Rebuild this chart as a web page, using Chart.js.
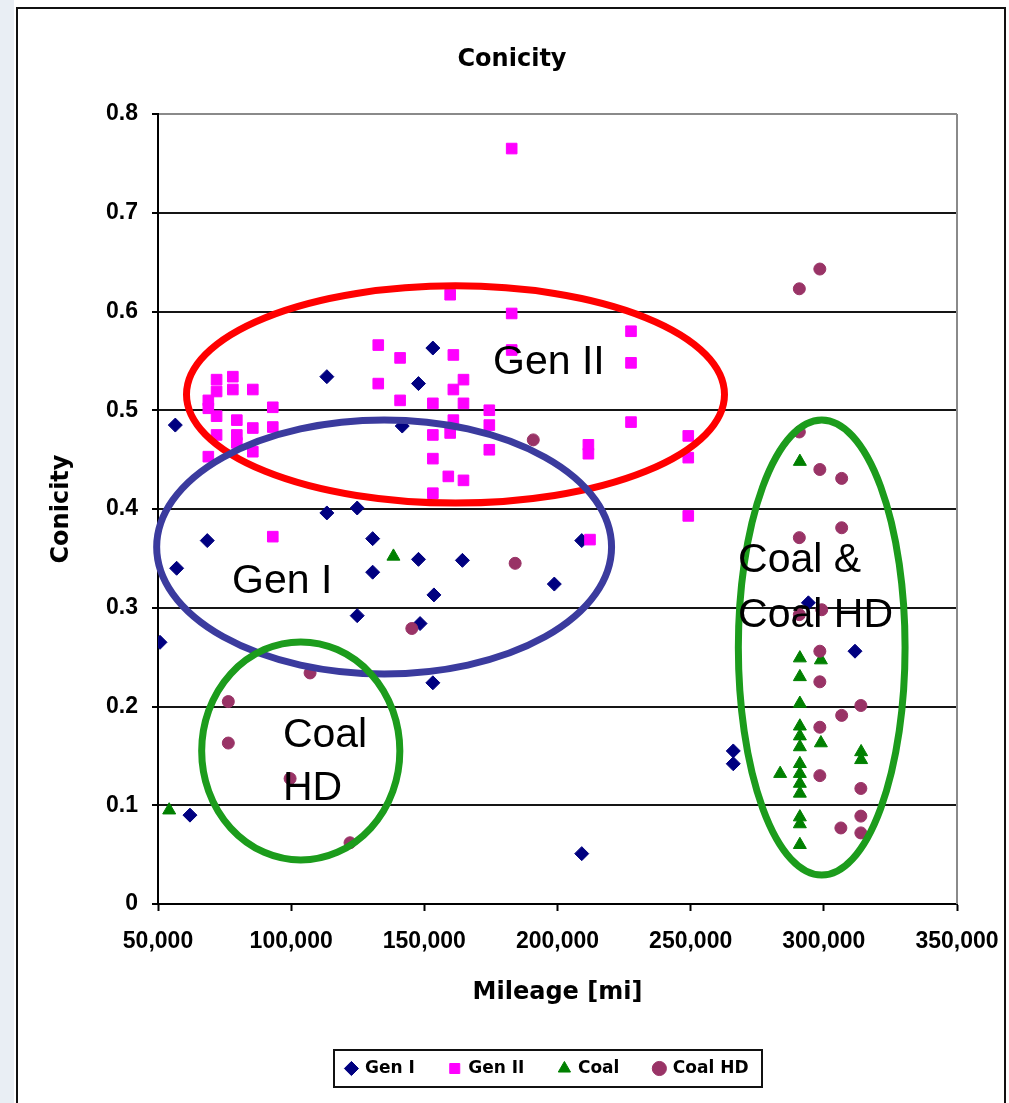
<!DOCTYPE html>
<html><head><meta charset="utf-8">
<script src="https://cdn.jsdelivr.net/npm/chart.js@4.4.1/dist/chart.umd.min.js"></script>
<style>
html,body{margin:0;padding:0;background:#fff;}
#wrap{position:relative;width:1009px;height:1103px;overflow:hidden;background:#fff;}
#strip{position:absolute;left:0;top:0;width:14px;height:1103px;background:#e9eef4;}
#frame{position:absolute;left:16px;top:7px;width:986px;height:1110px;border:2px solid #111;pointer-events:none;}
canvas{position:absolute;left:0;top:0;}
</style></head>
<body>
<div id="wrap"><div id="strip"></div><canvas id="c" width="1009" height="1103"></canvas><div id="frame"></div></div>
<script>
// ---------------- DATA ----------------
const seriesNames = ['Gen I', 'Gen II', 'Coal', 'Coal HD'];

const genIX = [50750, 56500, 57000, 62000, 68500, 113400, 113400, 124800, 124800, 130600, 130600, 141700, 147800, 147800, 148400, 153200, 153600, 153200, 164300, 198800, 209100, 209100, 266000, 266000, 294200, 311700];
const genIY = [0.265, 0.485, 0.340, 0.090, 0.368, 0.534, 0.396, 0.401, 0.292, 0.370, 0.336, 0.484, 0.527, 0.349, 0.284, 0.563, 0.313, 0.224, 0.348, 0.324, 0.368, 0.051, 0.155, 0.142, 0.305, 0.256];

const genIIX = [68900, 68900, 68900, 72000, 72000, 72000, 72000, 78100, 78100, 79600, 79600, 79600, 85600, 85600, 85600, 93100, 93100, 93100, 132700, 132700, 140900, 140900, 153200, 153200, 153200, 153200, 159000, 159700, 159700, 160900, 160900, 160900, 164700, 164700, 164700, 174400, 174400, 174400, 182800, 182800, 182800, 211600, 211600, 212200, 227600, 227600, 227600, 249100, 249100, 249100];
const genIIY = [0.510, 0.502, 0.453, 0.531, 0.519, 0.494, 0.475, 0.534, 0.521, 0.490, 0.475, 0.467, 0.521, 0.482, 0.458, 0.503, 0.483, 0.372, 0.566, 0.527, 0.553, 0.510, 0.507, 0.475, 0.451, 0.416, 0.433, 0.617, 0.477, 0.556, 0.521, 0.490, 0.531, 0.507, 0.429, 0.500, 0.485, 0.460, 0.765, 0.598, 0.561, 0.465, 0.456, 0.369, 0.580, 0.548, 0.488, 0.474, 0.452, 0.393];

const coalX = [54200, 138400, 283600, 291000, 291000, 291000, 291000, 291000, 291000, 291000, 291000, 291000, 291000, 291000, 291000, 291000, 291000, 298900, 298900, 314000, 314000];
const coalY = [0.095, 0.352, 0.132, 0.448, 0.249, 0.230, 0.203, 0.180, 0.170, 0.159, 0.142, 0.132, 0.122, 0.112, 0.088, 0.081, 0.060, 0.247, 0.163, 0.154, 0.146];

const coalHDX = [76400, 76400, 99600, 107100, 122100, 145300, 184100, 190900, 290800, 298500, 290800, 298500, 306700, 290800, 306700, 290800, 299200, 298500, 298500, 306700, 313900, 298500, 298500, 313900, 313900, 306400, 313900];
const coalHDY = [0.205, 0.163, 0.127, 0.234, 0.062, 0.279, 0.345, 0.470, 0.623, 0.643, 0.478, 0.440, 0.431, 0.371, 0.381, 0.293, 0.298, 0.256, 0.225, 0.191, 0.201, 0.179, 0.130, 0.117, 0.089, 0.077, 0.072];

const xTickValues = [50000, 100000, 150000, 200000, 250000, 300000, 350000];
const yTickValues = [0, 0.1, 0.2, 0.3, 0.4, 0.5, 0.6, 0.7, 0.8];

// ---------------- ANNOTATIONS (data units) ----------------
const ringCX = [161700, 134900, 103600, 299200];
const ringCY = [0.516, 0.3615, 0.155, 0.2597];
const ringRX = [101000, 85400, 37200, 31300];
const ringRY = [0.110, 0.1286, 0.1104, 0.2304];
const ringColors = ['#ff0000', '#3b3b9e', '#1c9c1c', '#1c9c1c'];
const noteText = ['Gen II', 'Gen I', 'Coal', 'HD', 'Coal &', 'Coal HD'];
const noteX = [175800, 77800, 96900, 96900, 267800, 267800];
const noteY = [0.5367, 0.3152, 0.1590, 0.1053, 0.3367, 0.2810];

function pts(xs, ys) { return xs.map((x, i) => ({x: x, y: ys[i]})); }

const annotPlugin = {
  id: 'annot',
  afterLayout(chart) {
    if (chart.legend) { chart.legend.left -= 10; chart.legend.right -= 10; }
  },
  beforeDatasetsDraw(chart) {
    const {ctx, chartArea: a} = chart;
    ctx.save();
    ctx.strokeStyle = '#8a8a8a';
    ctx.lineWidth = 2;
    ctx.beginPath();
    ctx.moveTo(a.right, a.top);
    ctx.lineTo(a.right, a.bottom);
    ctx.stroke();
    ctx.restore();
  },
  afterDatasetsDraw(chart) {
    const ctx = chart.ctx, xs = chart.scales.x, ys = chart.scales.y;
    ctx.save();
    ringCX.forEach((cx, i) => {
      const px = xs.getPixelForValue(cx), py = ys.getPixelForValue(ringCY[i]);
      const rx = Math.abs(xs.getPixelForValue(cx + ringRX[i]) - px);
      const ry = Math.abs(ys.getPixelForValue(ringCY[i] + ringRY[i]) - py);
      ctx.beginPath();
      ctx.ellipse(px, py, rx, ry, 0, 0, Math.PI * 2);
      ctx.strokeStyle = ringColors[i];
      ctx.lineWidth = 7;
      ctx.stroke();
    });
    ctx.fillStyle = '#000';
    ctx.font = '41px "Liberation Sans", Arial, sans-serif';
    ctx.textAlign = 'left';
    ctx.textBaseline = 'alphabetic';
    noteText.forEach((t, i) => {
      ctx.fillText(t, xs.getPixelForValue(noteX[i]), ys.getPixelForValue(noteY[i]));
    });
    ctx.restore();
  },
  afterDraw(chart) {
    const lg = chart.legend;
    if (!lg || !lg.legendHitBoxes || !lg.legendHitBoxes.length) return;
    const hb = lg.legendHitBoxes;
    let l = Infinity, r = -Infinity, t = Infinity, b = -Infinity;
    hb.forEach(h => { l = Math.min(l, h.left); r = Math.max(r, h.left + h.width); t = Math.min(t, h.top); b = Math.max(b, h.top + h.height); });
    const ctx = chart.ctx;
    ctx.save();
    ctx.strokeStyle = '#111';
    ctx.lineWidth = 2;
    ctx.strokeRect(Math.round(l - 12), Math.round(t - 10), Math.round(r - l + 26), Math.round(b - t + 20));
    ctx.restore();
  }
};

const tickFont = {family: '"Liberation Sans", Arial, sans-serif', weight: 'bold', size: 23};
const titleFont = {family: '"DejaVu Sans", sans-serif', weight: 'bold', size: 24};

new Chart(document.getElementById('c'), {
  type: 'scatter',
  data: {
    datasets: [
      {label: seriesNames[0], data: pts(genIX, genIY), pointStyle: 'rectRot', pointRadius: 7, backgroundColor: '#000080', borderColor: '#000080', borderWidth: 1, order: 3},
      {label: seriesNames[1], data: pts(genIIX, genIIY), pointStyle: 'rect', pointRadius: 7.5, backgroundColor: '#ff00ff', borderColor: '#ff00ff', borderWidth: 1, order: 2},
      {label: seriesNames[2], data: pts(coalX, coalY), pointStyle: 'triangle', pointRadius: 7.5, backgroundColor: '#008000', borderColor: '#008000', borderWidth: 1, order: 1},
      {label: seriesNames[3], data: pts(coalHDX, coalHDY), pointStyle: 'circle', pointRadius: 6, backgroundColor: '#993366', borderColor: '#993366', borderWidth: 1, order: 0}
    ]
  },
  options: {
    responsive: false,
    animation: false,
    devicePixelRatio: 1,
    layout: {padding: {left: 15, right: 0, top: 0, bottom: 16}},
    plugins: {
      tooltip: {enabled: false},
      title: {display: true, text: 'Conicity', color: '#000', font: titleFont, padding: {top: 45.6, bottom: 39.6}},
      legend: {
        position: 'bottom', fullSize: false,
        labels: {usePointStyle: true, boxWidth: 10, boxHeight: 10, padding: 35, color: '#000',
          sort: (a, b) => a.datasetIndex - b.datasetIndex,
          font: {family: '"DejaVu Sans", sans-serif', weight: 'bold', size: 17}}
      }
    },
    scales: {
      x: {
        type: 'linear', position: 'bottom', min: 50000, max: 350000,
        afterBuildTicks(s) { s.ticks = xTickValues.map(v => ({value: v})); },
        ticks: {callback: v => Number(v).toLocaleString('en-US'), color: '#000', font: tickFont, padding: 17, maxRotation: 0, autoSkip: false},
        grid: {drawOnChartArea: false, drawTicks: true, tickLength: 7, tickColor: '#000', tickWidth: 2},
        border: {color: '#000', width: 2},
        title: {display: true, text: 'Mileage [mi]', color: '#000', font: titleFont, padding: {top: 0, bottom: 17.6}},
        afterFit(s) { s.height = 121; s.paddingRight = 0; s.paddingLeft = 0; }
      },
      y: {
        type: 'linear', position: 'left', min: 0, max: 0.8,
        afterBuildTicks(s) { s.ticks = yTickValues.map(v => ({value: v})); },
        ticks: {callback: v => String(Math.round(v * 10) / 10), color: '#000', font: tickFont, padding: 14, autoSkip: false},
        grid: {color: c => (c.tick && c.tick.value >= 0.8 ? '#8a8a8a' : '#151515'), lineWidth: 2, drawTicks: true, tickLength: 6, tickColor: '#000', tickWidth: 2},
        border: {color: '#000', width: 2},
        title: {display: true, text: 'Conicity', color: '#000', font: titleFont, padding: {top: 32.6, bottom: 0}},
        afterFit(s) { s.width = 143; s.paddingTop = 0; s.paddingBottom = 0; }
      },
      y2: {
        type: 'linear', position: 'right', display: true,
        grid: {display: false}, ticks: {display: false}, border: {display: false},
        afterFit(s) { s.width = 52; s.paddingTop = 0; s.paddingBottom = 0; }
      }
    }
  },
  plugins: [annotPlugin]
});
</script>
</body></html>
